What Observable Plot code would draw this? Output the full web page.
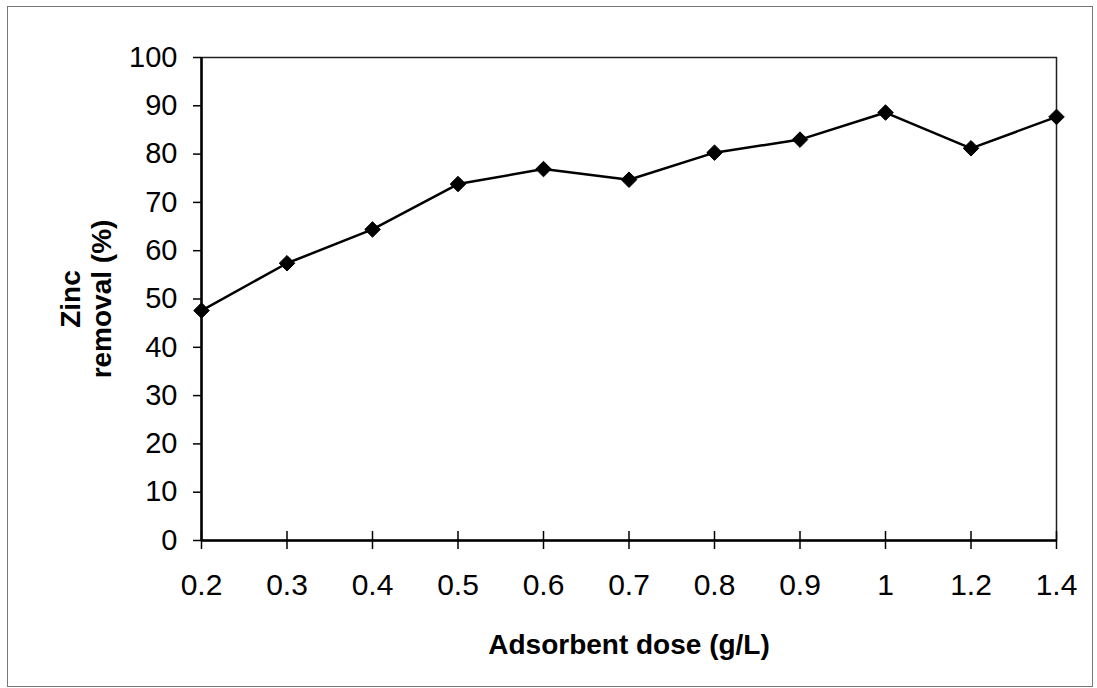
<!DOCTYPE html>
<html>
<head>
<meta charset="utf-8">
<script src="https://cdn.jsdelivr.net/npm/d3@7"></script>
<script src="https://cdn.jsdelivr.net/npm/@observablehq/plot@0.6"></script>
<style>
  html, body { margin: 0; padding: 0; background: #fff; }
  #wrap { position: relative; width: 1097px; height: 688px; }
  #border { position: absolute; left: 7px; top: 6px; width: 1086px; height: 681px;
            border: 1px solid #777; box-sizing: border-box; pointer-events: none; }
  svg { font-family: "Liberation Sans", Arial, sans-serif; }
</style>
</head>
<body>
<div id="wrap"><div id="border"></div></div>
<script>
const doses = ["0.2", "0.3", "0.4", "0.5", "0.6", "0.7", "0.8", "0.9", "1", "1.2", "1.4"];
const removal = [47.6, 57.4, 64.4, 73.8, 76.9, 74.7, 80.3, 83.0, 88.6, 81.2, 87.7];
const yTicks = [0, 10, 20, 30, 40, 50, 60, 70, 80, 90, 100];
const xTitle = "Adsorbent dose (g/L)";
const yTitle = "Zinc\nremoval (%)";

const data = doses.map((d, i) => ({dose: d, value: removal[i]}));

const chart = Plot.plot({
  width: 1097,
  height: 688,
  marginLeft: 201,
  marginRight: 41,
  marginTop: 57,
  marginBottom: 148,
  style: {fontFamily: "'Liberation Sans', Arial, sans-serif", background: "transparent"},
  x: {type: "point", domain: doses, padding: 0, round: false, axis: null},
  y: {domain: [0, 100], axis: null},
  marks: [
    Plot.frame({stroke: "#222", strokeWidth: 1.5}),
    Plot.axisY({ticks: yTicks, tickSize: 8, tickPadding: 16, fontSize: 29, label: null, strokeWidth: 1.5}),
    Plot.axisX({tickSize: 18, dy: -9, text: null, label: null, strokeWidth: 1.5}),
    Plot.axisX({tickSize: 0, tickPadding: 33, fontSize: 30, label: null}),
    Plot.ruleY([0], {stroke: "#000", strokeWidth: 2.5}),
    Plot.ruleX([doses[0]], {stroke: "#000", strokeWidth: 2.5}),
    Plot.line(data, {x: "dose", y: "value", stroke: "#000", strokeWidth: 2.5}),
    Plot.dot(data, {x: "dose", y: "value", symbol: "diamond2", r: 7, fill: "#000", stroke: "#000", strokeWidth: 1}),
    Plot.text([xTitle], {frameAnchor: "bottom", lineAnchor: "middle", dy: 105, text: d => d, fontSize: 28, fontWeight: "bold", fill: "#000"}),
    Plot.text([yTitle], {frameAnchor: "left", textAnchor: "middle", lineAnchor: "middle", dx: -116, rotate: -90, text: d => d, fontSize: 28, fontWeight: "bold", lineHeight: 1.12, fill: "#000"})
  ]
});
document.getElementById("wrap").prepend(chart);
</script>
</body>
</html>
